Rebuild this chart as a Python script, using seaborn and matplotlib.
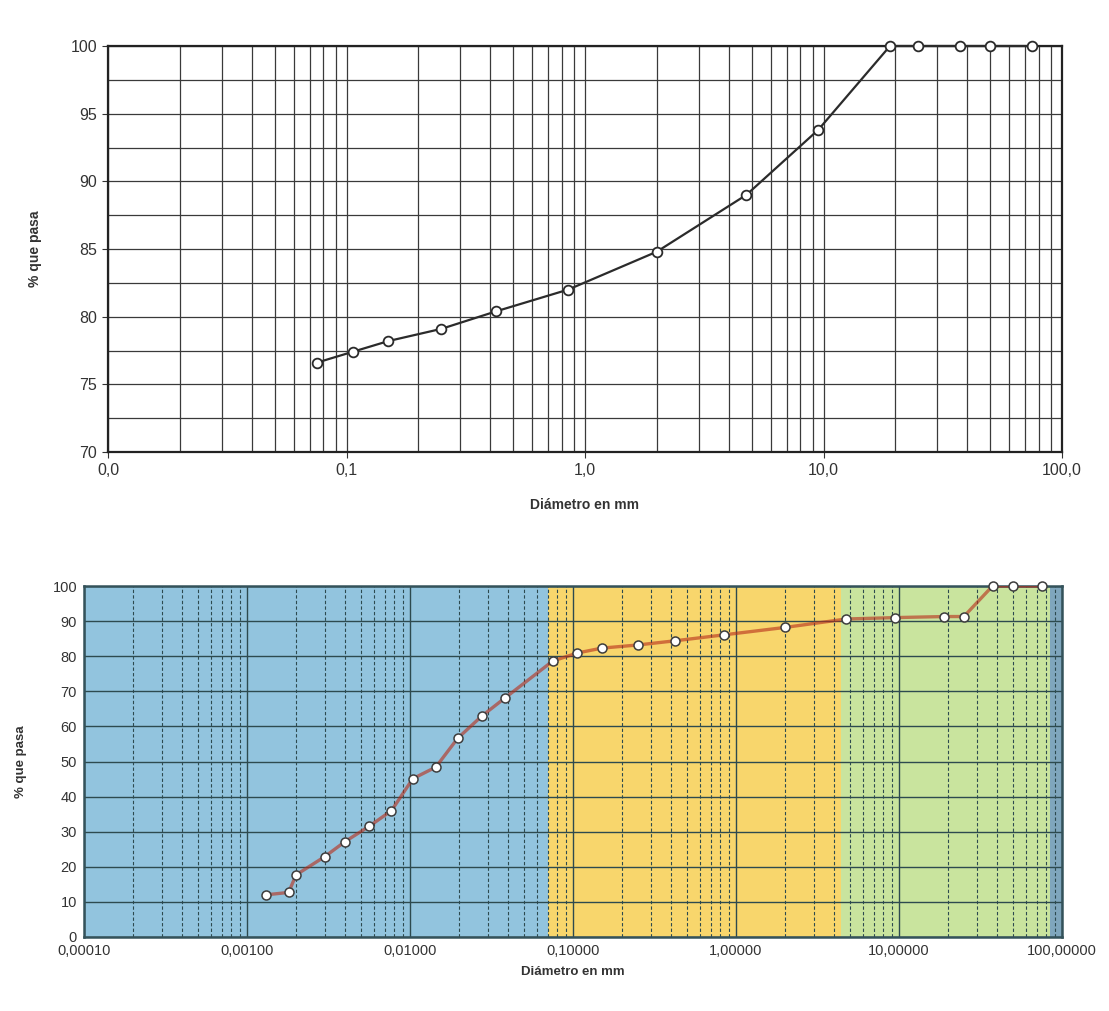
import numpy as np
import pandas as pd
import seaborn as sns
import matplotlib.pyplot as plt
from matplotlib.ticker import FixedLocator, MultipleLocator, LogLocator, NullFormatter

# muestra 1: granulometria por tamizado
diam_top = [0.075, 0.106, 0.15, 0.25, 0.425, 0.85, 2.0, 4.75, 9.5, 19.0, 25.0, 37.5, 50.0, 75.0]
pasa_top = [76.6, 77.4, 78.2, 79.1, 80.4, 82.0, 84.8, 89.0, 93.8, 100, 100, 100, 100, 100]

# muestra 2: tamizado + sedimentacion
diam_bot = [0.0013, 0.0018, 0.002, 0.003, 0.004, 0.0056, 0.0077, 0.0104, 0.0144, 0.0196,
            0.0275, 0.038, 0.075, 0.106, 0.15, 0.25, 0.425, 0.85, 2.0, 4.75, 9.5, 19.0,
            25.0, 37.5, 50.0, 75.0]
pasa_bot = [12.0, 12.7, 17.7, 22.9, 27.2, 31.5, 36.0, 45.1, 48.4, 56.6, 62.9, 68.0, 78.6,
            80.9, 82.3, 83.2, 84.4, 86.1, 88.2, 90.6, 91.0, 91.3, 91.3, 100, 100, 100]

ticks_top = [0.01, 0.1, 1, 10, 100]
ticks_bot = [0.0001, 0.001, 0.01, 0.1, 1, 10, 100]

# limites de zonas: finos / arena / grava / bolos
zone_edges = [0.0001, 0.07, 4.4, 85, 100]
zone_colors = ['#92c4de', '#f8d66c', '#c9e49e', '#7fa6bd']

sns.set_theme(style='white')
plt.rcParams['font.family'] = ['Liberation Sans', 'DejaVu Sans']

W, H = 1109, 1011
fig = plt.figure(figsize=(W / 100, H / 100), dpi=100)


def box(l, t, r, b):
    return [l / W, 1 - b / H, (r - l) / W, (b - t) / H]


# ---- grafico superior ----
ax1 = fig.add_axes(box(108, 46, 1062, 452))
df_top = pd.DataFrame({'d': diam_top, 'p': pasa_top})
sns.lineplot(data=df_top, x='d', y='p', ax=ax1, color='#2b2b2b', lw=1.6,
             marker='o', markersize=7, markerfacecolor='white',
             markeredgecolor='#2b2b2b', markeredgewidth=1.3, zorder=3, clip_on=False)
ax1.set_xscale('log')
ax1.set_xlim(ticks_top[0], ticks_top[-1])
ax1.set_ylim(70, 100)
ax1.xaxis.set_major_locator(FixedLocator(ticks_top))
ax1.xaxis.set_minor_locator(LogLocator(base=10, subs=np.arange(2, 10)))
ax1.xaxis.set_minor_formatter(NullFormatter())
ax1.set_xticklabels([f'{t:.1f}'.replace('.', ',') for t in ticks_top])
ax1.yaxis.set_major_locator(MultipleLocator(5))
ax1.yaxis.set_minor_locator(MultipleLocator(2.5))
ax1.grid(which='both', color='#3a3a3a', lw=0.9)
ax1.tick_params(which='major', length=4, width=0.8, color='#333', labelsize=11.5,
                labelcolor='#333', bottom=True, left=True, pad=4)
ax1.tick_params(which='minor', length=0)
for s in ax1.spines.values():
    s.set_color('#222')
    s.set_linewidth(1.6)
ax1.set_xlabel('Diámetro en mm', fontweight='bold', fontsize=10, color='#333', labelpad=14)
ax1.set_ylabel('% que pasa', fontweight='bold', fontsize=10, color='#333', labelpad=20)

# ---- grafico inferior ----
ax2 = fig.add_axes(box(84, 586, 1062, 937))
for i in range(len(zone_colors)):
    ax2.axvspan(zone_edges[i], zone_edges[i + 1], color=zone_colors[i], lw=0, zorder=0)
df_bot = pd.DataFrame({'d': diam_bot, 'p': pasa_bot})
sns.lineplot(data=df_bot, x='d', y='p', ax=ax2, color='#b8301c', lw=2.4, alpha=0.62, zorder=3)
sns.scatterplot(data=df_bot, x='d', y='p', ax=ax2, color='white', edgecolor='#3d3d3d',
                linewidth=1.1, s=42, zorder=4, clip_on=False)
ax2.set_xscale('log')
ax2.set_xlim(ticks_bot[0], ticks_bot[-1])
ax2.set_ylim(0, 100)
ax2.xaxis.set_major_locator(FixedLocator(ticks_bot))
ax2.xaxis.set_minor_locator(LogLocator(base=10, subs=np.arange(2, 10)))
ax2.xaxis.set_minor_formatter(NullFormatter())
ax2.set_xticklabels([f'{t:.5f}'.replace('.', ',') for t in ticks_bot])
ax2.yaxis.set_major_locator(MultipleLocator(10))
ax2.grid(which='major', color='#2d4a4f', lw=1.0)
ax2.grid(which='minor', axis='x', color='#2d4a4f', lw=0.8, ls=(0, (3, 2)))
ax2.tick_params(which='major', length=0, labelsize=10.5, labelcolor='#333', pad=5)
ax2.tick_params(which='minor', length=0)
for s in ax2.spines.values():
    s.set_color('#34525a')
    s.set_linewidth(1.8)
ax2.set_xlabel('Diámetro en mm', fontweight='bold', fontsize=9.5, color='#333', labelpad=6)
ax2.set_ylabel('% que pasa', fontweight='bold', fontsize=9.5, color='#333', labelpad=18)

fig.savefig('out.png', dpi=100, facecolor='white')
